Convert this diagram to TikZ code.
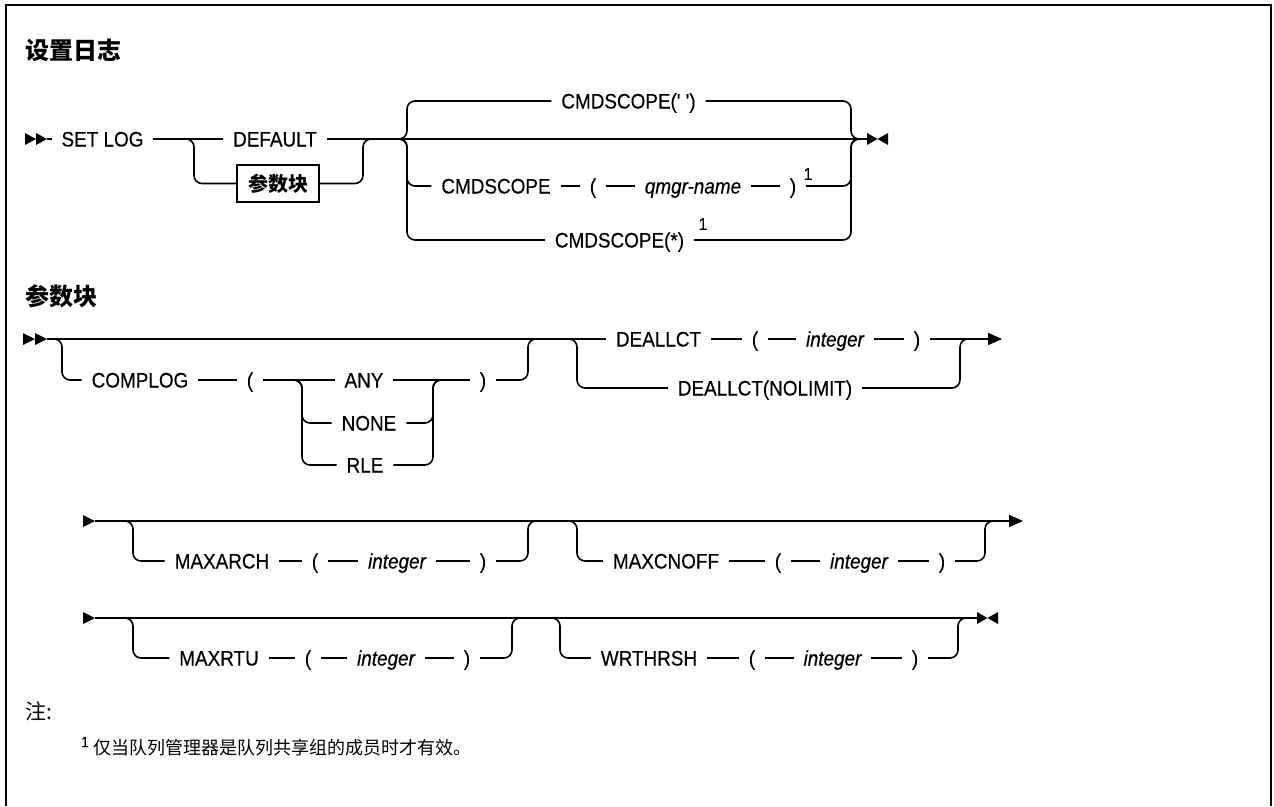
\documentclass[tikz,border=0pt]{standalone}
\usepackage{fontspec}
\setmainfont{Liberation Sans}[Ligatures=TeXOff, FakeStretch=0.9, FakeBold=0.4]
\newfontfamily\cjk{Noto Sans CJK SC}
\usetikzlibrary{arrows.meta}
\tikzset{
  ln/.style={line width=1.6pt},
  rc/.style={line width=1.6pt, rounded corners=8pt},
  kw/.style={font=\fontsize{21}{21}\selectfont, inner sep=0pt, outer xsep=10pt, outer ysep=0pt, text height=15pt, text depth=0pt},
  var/.style={kw, font=\fontsize{21}{21}\selectfont\itshape},
  fnum/.style={font=\fontsize{17}{17}\selectfont, inner sep=0pt},
  hdr/.style={font=\cjk\bfseries\fontsize{24}{24}\selectfont, inner sep=0pt, anchor=west},
  boxn/.style={draw, line width=1.6pt, font=\cjk\bfseries\fontsize{20}{20}\selectfont, minimum width=82pt, minimum height=37pt, inner sep=0pt, outer sep=0pt},
  notetxt/.style={font=\cjk\fontsize{18}{18}\selectfont, inner sep=0pt, anchor=west},
  endtip/.style={-{Triangle[length=14pt,width=12pt]}},
}
\begin{document}
\begin{tikzpicture}[x=1pt,y=-1pt]
\useasboundingbox (0,0) rectangle (1274,806);
\draw[line width=2pt] (6,806) -- (6,5) -- (1271,5) -- (1271,806);

% ---------- title ----------
\node[hdr] (h1) at (25,50) {设置日志};

% ---------- SET LOG ----------
\fill (25,133) -- (36,139) -- (25,145) -- cycle;
\fill (36,133) -- (47,139) -- (36,145) -- cycle;
\coordinate (s0) at (47,139);
\node[kw] (setlog) at (102.5,139) {SET LOG};
\node[kw] (default) at (275,139) {DEFAULT};
\node[boxn] (pb) at (278,183.5) {参数块};
\node[kw] (cs1) at (628.5,101) {CMDSCOPE(' ')};
\node[kw] (cs2) at (496,186) {CMDSCOPE};
\node[kw] (lpa) at (593,186) {(};
\node[var] (qm) at (693,186) {qmgr-name};
\node[kw] (rpa) at (793,186) {)};
\node[fnum] (n1) at (808,174) {1};
\node[kw] (cs3) at (619.5,240) {CMDSCOPE(*)};
\node[fnum] (n2) at (703,224) {1};
\coordinate (e0) at (867,139);

\draw[ln] (s0) -- (setlog.west);
\draw[ln] (setlog.east) -- (default.west);
\draw[rc] (180,139) -- (194,139) -- (194,183.5) -- (pb.west);
\draw[ln] (default.east) -- (e0);
\draw[rc] (pb.east) -- (363,183.5) -- (363,139) -- (375,139);
\draw[rc] (395,139) -- (407,139) -- (407,101) -- (cs1.west);
\draw[rc] (cs1.east) -- (851,101) -- (851,139) -- (862,139);
\draw[rc] (395,139) -- (407,139) -- (407,186) -- (cs2.west);
\draw[ln] (cs2.east) -- (lpa.west);
\draw[ln] (lpa.east) -- (qm.west);
\draw[ln] (qm.east) -- (rpa.west);
\draw[rc] (rpa.east) -- (851,186) -- (851,139) -- (862,139);
\draw[rc] (395,139) -- (407,139) -- (407,240) -- (cs3.west);
\draw[rc] (cs3.east) -- (851,240) -- (851,139) -- (862,139);
\fill (867,133) -- (877.5,139) -- (867,145) -- cycle;
\fill (888,133) -- (877.5,139) -- (888,145) -- cycle;

% ---------- parameter block ----------
\node[hdr] (h2) at (25,296) {参数块};

% row 1
\fill (23,333) -- (35,339) -- (23,345) -- cycle;
\fill (35,333) -- (47,339) -- (35,345) -- cycle;
\coordinate (s1) at (47,339);
\node[kw] (complog) at (140,380) {COMPLOG};
\node[kw] (lpb) at (250,380) {(};
\node[kw] (any) at (364,380) {ANY};
\node[kw] (none) at (369,423) {NONE};
\node[kw] (rle) at (365,465) {RLE};
\node[kw] (rpb) at (483,380) {)};
\node[kw] (dea) at (658.5,339) {DEALLCT};
\node[kw] (lpc) at (755,339) {(};
\node[var] (int1) at (835,339) {integer};
\node[kw] (rpc) at (917,339) {)};
\node[kw] (nol) at (765,388) {DEALLCT(NOLIMIT)};
\coordinate (e1) at (1002,339);

\draw[ln] (s1) -- (dea.west);
\draw[rc] (50,339) -- (62,339) -- (62,380) -- (complog.west);
\draw[ln] (complog.east) -- (lpb.west);
\draw[ln] (lpb.east) -- (any.west);
\draw[rc] (295,380) -- (302,380) -- (302,423) -- (none.west);
\draw[rc] (295,380) -- (302,380) -- (302,465) -- (rle.west);
\draw[ln] (any.east) -- (rpb.west);
\draw[rc] (none.east) -- (433,423) -- (433,380) -- (440,380);
\draw[rc] (rle.east) -- (433,465) -- (433,380) -- (440,380);
\draw[rc] (rpb.east) -- (528,380) -- (528,339) -- (540,339);
\draw[ln] (dea.east) -- (lpc.west);
\draw[ln] (lpc.east) -- (int1.west);
\draw[ln] (int1.east) -- (rpc.west);
\draw[ln,endtip] (rpc.east) -- (e1);
\draw[rc] (566,339) -- (577,339) -- (577,388) -- (nol.west);
\draw[rc] (nol.east) -- (960,388) -- (960,339) -- (970,339);

% row 2
\fill (83,515) -- (95,521) -- (83,527) -- cycle;
\coordinate (s2) at (95,521);
\coordinate (e2) at (1023,521);
\node[kw] (mxa) at (222,561) {MAXARCH};
\node[kw] (lpd) at (315,561) {(};
\node[var] (int2) at (397,561) {integer};
\node[kw] (rpd) at (483,561) {)};
\node[kw] (mxc) at (666,561) {MAXCNOFF};
\node[kw] (lpe) at (778,561) {(};
\node[var] (int3) at (859,561) {integer};
\node[kw] (rpe) at (942,561) {)};

\draw[ln,endtip] (s2) -- (e2);
\draw[rc] (122,521) -- (133,521) -- (133,561) -- (mxa.west);
\draw[ln] (mxa.east) -- (lpd.west);
\draw[ln] (lpd.east) -- (int2.west);
\draw[ln] (int2.east) -- (rpd.west);
\draw[rc] (rpd.east) -- (528,561) -- (528,521) -- (538,521);
\draw[rc] (566,521) -- (577,521) -- (577,561) -- (mxc.west);
\draw[ln] (mxc.east) -- (lpe.west);
\draw[ln] (lpe.east) -- (int3.west);
\draw[ln] (int3.east) -- (rpe.west);
\draw[rc] (rpe.east) -- (985,561) -- (985,521) -- (995,521);

% row 3
\fill (83,612) -- (95,618) -- (83,624) -- cycle;
\coordinate (s3) at (95,618);
\coordinate (e3) at (977,618);
\node[kw] (mxr) at (219,658) {MAXRTU};
\node[kw] (lpf) at (308,658) {(};
\node[var] (int4) at (386,658) {integer};
\node[kw] (rpf) at (467,658) {)};
\node[kw] (wrt) at (649,658) {WRTHRSH};
\node[kw] (lpg) at (752,658) {(};
\node[var] (int5) at (832.5,658) {integer};
\node[kw] (rpg) at (915,658) {)};

\draw[ln] (s3) -- (e3);
\draw[rc] (122,618) -- (133,618) -- (133,658) -- (mxr.west);
\draw[ln] (mxr.east) -- (lpf.west);
\draw[ln] (lpf.east) -- (int4.west);
\draw[ln] (int4.east) -- (rpf.west);
\draw[rc] (rpf.east) -- (512,658) -- (512,618) -- (522,618);
\draw[rc] (549,618) -- (560,618) -- (560,658) -- (wrt.west);
\draw[ln] (wrt.east) -- (lpg.west);
\draw[ln] (lpg.east) -- (int5.west);
\draw[ln] (int5.east) -- (rpg.west);
\draw[rc] (rpg.east) -- (958,658) -- (958,618) -- (968,618);
\fill (977,612) -- (987.5,618) -- (977,624) -- cycle;
\fill (998,612) -- (987.5,618) -- (998,624) -- cycle;

% ---------- notes ----------
\node[notetxt, font=\cjk\fontsize{21}{21}\selectfont] (zhu) at (25,711) {注:};
\node[font=\fontsize{15}{15}\selectfont, inner sep=0pt] (fn1) at (85,742) {1};
\node[notetxt] (fn) at (93,748) {仅当队列管理器是队列共享组的成员时才有效。};
\end{tikzpicture}
\end{document}
